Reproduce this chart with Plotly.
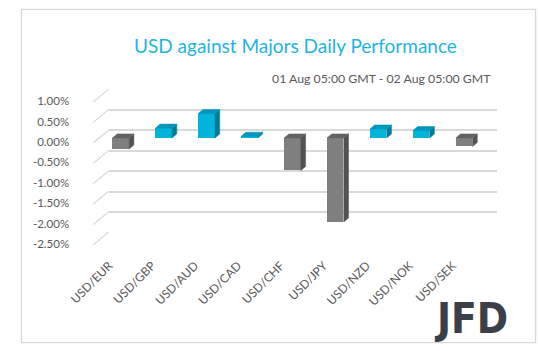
import plotly.graph_objects as go

# ---------------- data ----------------
categories = ["USD/EUR", "USD/GBP", "USD/AUD", "USD/CAD", "USD/CHF",
              "USD/JPY", "USD/NZD", "USD/NOK", "USD/SEK"]
values = [-0.27, 0.24, 0.60, 0.04, -0.80, -2.06, 0.22, 0.18, -0.21]
tick_vals = [1.0, 0.5, 0.0, -0.5, -1.0, -1.5, -2.0, -2.5]
tick_text = ["1.00%", "0.50%", "0.00%", "-0.50%", "-1.00%", "-1.50%", "-2.00%", "-2.50%"]
title_text = "USD against Majors Daily Performance"
subtitle_text = "01 Aug 05:00 GMT - 02 Aug 05:00 GMT"

# ---------------- geometry helpers ----------------
W, H = 538, 351
def px(x):
    return x / W
def py(y):
    return 1 - y / H

YMIN, YMAX = -2.5, 1.0
FONT = "Lato, 'Open Sans', sans-serif"

# colours
POS_FRONT, POS_TOP, POS_SIDE = "#00B4DC", "#0097BA", "#007C98"
NEG_FRONT, NEG_TOP, NEG_SIDE = "#7F7F7F", "#636363", "#525252"

BAR_W = 0.39
DX = 0.11   # depth offset in category units
DY = 0.10   # depth offset in value units

fig = go.Figure()

# back wall grid (subplot 1, drawn first => behind)
fig.add_trace(go.Scatter(x=[None], y=[None], xaxis="x", yaxis="y",
                         showlegend=False, hoverinfo="skip"))

# 3D faces for bars (subplot 2)
def faces(sign_pos):
    sx, sy, tx, ty = [], [], [], []
    for i, v in enumerate(values):
        if (v >= 0) != sign_pos:
            continue
        top = max(v, 0.0)
        bot = min(v, 0.0)
        h = BAR_W / 2
        sx += [i + h, i + h, i + h + DX, i + h + DX, i + h, None]
        sy += [bot, top, top + DY, bot + DY, bot, None]
        tx += [i - h, i + h, i + h + DX, i - h + DX, i - h, None]
        ty += [top, top, top + DY, top + DY, top, None]
    return sx, sy, tx, ty

for pos, side_c, top_c in [(True, POS_SIDE, POS_TOP), (False, NEG_SIDE, NEG_TOP)]:
    sx, sy, tx, ty = faces(pos)
    fig.add_trace(go.Scatter(x=sx, y=sy, fill="toself", fillcolor=side_c,
                             mode="lines", line=dict(width=0.5, color=side_c),
                             xaxis="x2", yaxis="y2", showlegend=False, hoverinfo="skip"))
    fig.add_trace(go.Scatter(x=tx, y=ty, fill="toself", fillcolor=top_c,
                             mode="lines", line=dict(width=0.5, color=top_c),
                             xaxis="x2", yaxis="y2", showlegend=False, hoverinfo="skip"))

fig.add_trace(go.Bar(x=list(range(len(categories))), y=values, width=BAR_W,
                     marker=dict(color=[POS_FRONT if v >= 0 else NEG_FRONT for v in values],
                                 line=dict(width=0)),
                     xaxis="x2", yaxis="y2", showlegend=False))

# y tick labels (subplot 3)
fig.add_trace(go.Scatter(x=[None], y=[None], xaxis="x3", yaxis="y3",
                         showlegend=False, hoverinfo="skip"))
# category labels (subplot 4)
fig.add_trace(go.Scatter(x=[None], y=[None], xaxis="x4", yaxis="y4",
                         showlegend=False, hoverinfo="skip"))

# diagonal side-wall lines from tick labels to back wall
shapes = []
for t in tick_vals:
    y_front = 140 - 42.4 * t
    y_back = 127.7 - 42.4 * t
    shapes.append(dict(type="line", xref="paper", yref="paper",
                       x0=px(77), y0=py(y_front + 1), x1=px(93), y1=py(y_back),
                       line=dict(color="#D9D9D9", width=1.2), layer="below"))
# outer frame
shapes.append(dict(type="rect", xref="paper", yref="paper",
                   x0=px(2.5), y0=py(348.5), x1=px(535.5), y1=py(2.5),
                   line=dict(color="#D9D9D9", width=1.3)))

fig.update_layout(
    width=W, height=H,
    margin=dict(l=0, r=0, t=0, b=0),
    paper_bgcolor="white", plot_bgcolor="rgba(0,0,0,0)",
    font=dict(family=FONT, color="#595959", size=11),
    bargap=0,
    shapes=shapes,
    # back wall
    xaxis=dict(domain=[px(93), px(495)], range=[0, 1], visible=False,
               showgrid=False, fixedrange=True),
    yaxis=dict(domain=[py(234), py(85.7)], range=[YMIN, YMAX], anchor="x",
               dtick=0.5, tick0=0, showgrid=True, gridcolor="#D9D9D9", gridwidth=1.5,
               zeroline=False, showticklabels=False, ticks="", showline=False),
    # bars
    xaxis2=dict(domain=[px(83.25), px(483.75)], range=[-0.5, 8.5], anchor="y2",
                visible=False),
    yaxis2=dict(domain=[py(242), py(93.6)], range=[YMIN, YMAX], anchor="x2",
                showgrid=False, zeroline=False, showticklabels=False, showline=False),
    # y tick labels
    xaxis3=dict(domain=[px(53), px(63)], range=[0, 1], anchor="y3", visible=False),
    yaxis3=dict(domain=[py(246), py(97.7)], range=[YMIN, YMAX], anchor="x3",
                tickmode="array", tickvals=tick_vals, ticktext=tick_text,
                showgrid=False, zeroline=False, showline=False, ticks="",
                tickfont=dict(size=11.5, color="#595959", family=FONT)),
    # category labels
    xaxis4=dict(domain=[px(71.25), px(471.75)], range=[-0.5, 8.5], anchor="y4",
                tickmode="array", tickvals=list(range(len(categories))), ticktext=categories,
                tickangle=-45, showgrid=False, zeroline=False, showline=False,
                ticks="outside", ticklen=12, tickcolor="rgba(0,0,0,0)",
                tickfont=dict(size=12, color="#595959", family=FONT)),
    yaxis4=dict(domain=[py(243), py(240)], range=[0, 1], anchor="x4", visible=False),
    annotations=[
        dict(text=title_text, xref="paper", yref="paper", x=px(287), y=py(40),
             xanchor="center", yanchor="middle", showarrow=False,
             font=dict(size=19, color="#1FB4E2", family=FONT)),
        dict(text=subtitle_text, xref="paper", yref="paper", x=px(491), y=py(74),
             xanchor="right", yanchor="middle", showarrow=False,
             font=dict(size=12.3, color="#595959", family=FONT)),
        dict(text="<b>JFD</b>", xref="paper", yref="paper", x=px(509), y=py(323),
             xanchor="right", yanchor="middle", showarrow=False,
             font=dict(size=42, color="#3B4048",
                       family="'Liberation Sans Narrow', 'DejaVu Sans Condensed', sans-serif")),
    ],
)

fig.write_html("out.html")
